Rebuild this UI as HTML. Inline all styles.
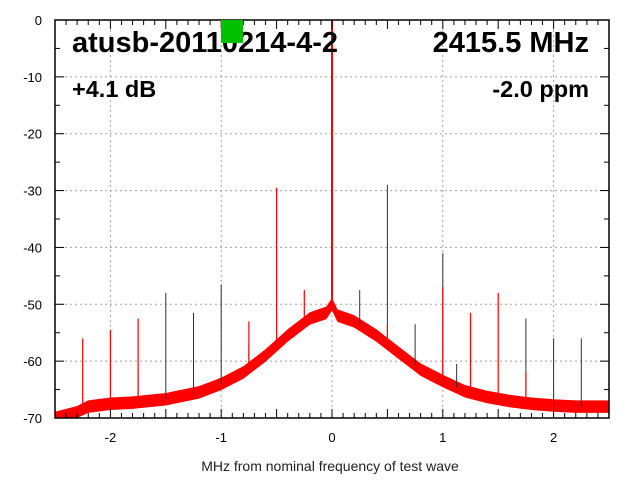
<!DOCTYPE html>
<html><head><meta charset="utf-8"><style>
body{margin:0;background:#fff;font-family:"Liberation Sans",sans-serif}
svg text{font-family:"Liberation Sans",sans-serif}
</style></head><body>
<svg id="c" width="640" height="480">
<rect width="640" height="480" fill="#fff"/>
<g id="grid"></g>
<g id="noise"></g>
<g id="spikes"></g>
<g id="axes"></g>
<text x="72" y="52" font-size="29" font-weight="bold">atusb-20110214-4-2</text>
<text x="589" y="52" font-size="29" font-weight="bold" text-anchor="end">2415.5 MHz</text>
<text x="72" y="97" font-size="23.5" font-weight="bold">+4.1 dB</text>
<text x="589" y="97" font-size="23.5" font-weight="bold" text-anchor="end">-2.0 ppm</text>
<text x="330" y="471" font-size="14" text-anchor="middle" fill="#222">MHz from nominal frequency of test wave</text>
<rect x="221" y="20" width="22" height="23" fill="#00c000"/>
</svg>
<script>
const xTicks=[-2,-1,0,1,2];
const yTicks=[0,-10,-20,-30,-40,-50,-60,-70];
const envX=[-2.5,-2.3,-2.2,-2.0,-1.8,-1.5,-1.2,-1.0,-0.8,-0.6,-0.4,-0.2,-0.05,0,0.05,0.2,0.4,0.6,0.8,1.0,1.2,1.4,1.6,1.8,2.0,2.2,2.5];
const envY=[-70,-69,-68,-67.5,-67.3,-66.7,-65.5,-64,-62,-59,-55.5,-52.5,-51.5,-50,-52,-53,-55.5,-58.5,-61.5,-63.5,-65.3,-66.3,-67,-67.5,-67.8,-68,-68];
const redSpikeX=[-2.25,-2.0,-1.75,-0.75,-0.5,-0.25,0,0.5,1.0,1.25,1.5,1.75];
const redSpikeY=[-56,-54.5,-52.5,-53,-29.5,-47.5,0,-53.5,-47,-51.5,-48,-62];
const darkSpikeX=[-1.75,-1.5,-1.25,-1.0,-0.75,0.25,0.5,0.75,1.0,1.125,1.75,2.0,2.25];
const darkSpikeY=[-61.5,-48,-51.5,-46.5,-57,-47.5,-29,-53.5,-41,-60.5,-52.5,-56,-56];
const L=55,R=609,T=20,B=418;
const xs=v=>L+(v+2.5)/5*(R-L);
const ys=v=>T+(0-v)/70*(B-T);
const NS='http://www.w3.org/2000/svg';
function mk(p,tag,a){const e=document.createElementNS(NS,tag);for(const k in a)e.setAttribute(k,a[k]);p.appendChild(e);return e;}
const g=document.getElementById('grid'),ax=document.getElementById('axes'),nz=document.getElementById('noise'),sp=document.getElementById('spikes');
xTicks.forEach(v=>{
 const l=mk(g,'line',{x1:xs(v),x2:xs(v),y1:T,y2:B,stroke:'#a0a0a0','stroke-dasharray':'2,3'});
 
 
 const t=mk(ax,'text',{x:xs(v),y:B+24,'font-size':13,'text-anchor':'middle'});t.textContent=v;
 
 
});
yTicks.forEach(v=>{
 const l=mk(g,'line',{x1:L,x2:R,y1:ys(v),y2:ys(v),stroke:'#a0a0a0','stroke-dasharray':'2,3'});
 
 
 const t=mk(ax,'text',{x:L-13,y:ys(v)+5,'font-size':13,'text-anchor':'end'});t.textContent=v;
 
 
});
for(let i=-25;i<=25;i++){const x=xs(i/10),len=(i%5==0)?9:5;
 mk(ax,'line',{x1:x,x2:x,y1:B,y2:B-len,stroke:'#000'});mk(ax,'line',{x1:x,x2:x,y1:T,y2:T+len,stroke:'#000'});}
for(let v=0;v>=-70;v-=5){const y=ys(v),len=(v%10==0)?9:5;
 mk(ax,'line',{x1:L,x2:L+len,y1:y,y2:y,stroke:'#000'});mk(ax,'line',{x1:R,x2:R-len,y1:y,y2:y,stroke:'#000'});}
const fr=mk(ax,'rect',{x:L,y:T,width:R-L,height:B-T,fill:'none',stroke:'#000','stroke-width':1.5});


let up=[],dn=[];
envX.forEach((x,i)=>{up.push(xs(x)+','+Math.min(B,ys(envY[i]+1.1)));dn.unshift(xs(x)+','+Math.min(B,ys(envY[i]-1.1)));});
const band=mk(nz,'polygon',{points:up.concat(dn).join(' '),fill:'#ff0000'});


function base(x){for(let i=0;i<envX.length-1;i++){if(x>=envX[i]&&x<=envX[i+1]){const f=(x-envX[i])/(envX[i+1]-envX[i]);return envY[i]+f*(envY[i+1]-envY[i]);}}return -68;}
darkSpikeX.forEach((x,i)=>{const l=mk(sp,'line',{x1:xs(x),x2:xs(x),y1:ys(base(x)),y2:ys(darkSpikeY[i]),stroke:'#303030','stroke-width':1});
 
 });
redSpikeX.forEach((x,i)=>{const l=mk(sp,'line',{x1:xs(x),x2:xs(x),y1:ys(base(x)),y2:ys(redSpikeY[i]),stroke:'#ff0000','stroke-width':x==0?2:1.2});
 
 });
</script>
</body></html>
